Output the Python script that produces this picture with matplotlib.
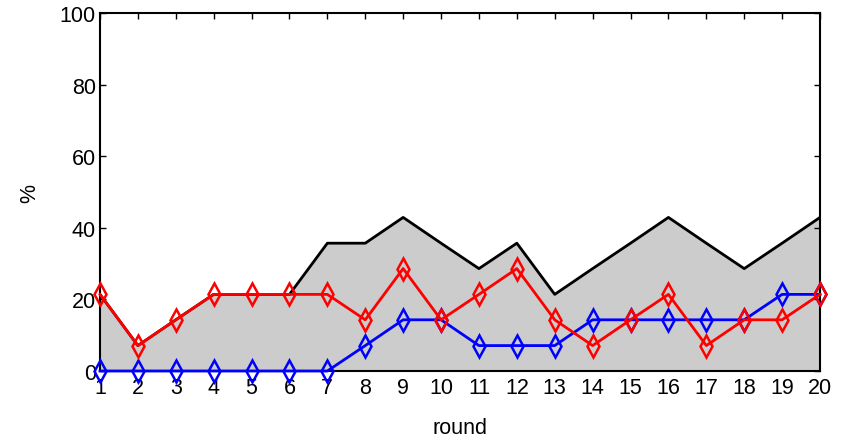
import matplotlib
matplotlib.use("Agg")
import matplotlib.pyplot as plt

plt.rcParams['font.family'] = ['Liberation Sans', 'DejaVu Sans']

rounds = list(range(1, 21))
# values in %, multiples of 1/14
total = [21.4, 7.1, 14.3, 21.4, 21.4, 21.4, 35.7, 35.7, 42.9, 35.7,
         28.6, 35.7, 21.4, 28.6, 35.7, 42.9, 35.7, 28.6, 35.7, 42.9]
blue_vals = [0, 0, 0, 0, 0, 0, 0, 7.1, 14.3, 14.3,
             7.1, 7.1, 7.1, 14.3, 14.3, 14.3, 14.3, 14.3, 21.4, 21.4]
red_vals = [21.4, 7.1, 14.3, 21.4, 21.4, 21.4, 21.4, 14.3, 28.6, 14.3,
            21.4, 28.6, 14.3, 7.1, 14.3, 21.4, 7.1, 14.3, 14.3, 21.4]
yticks = [0, 20, 40, 60, 80, 100]

fig = plt.figure(figsize=(8.52, 4.39), dpi=100)
ax = fig.add_axes([100 / 852, 1 - 372 / 439, 720 / 852, 358 / 439])

ax.fill_between(rounds, 0, total, color='#cccccc', linewidth=0, zorder=1)
ax.plot(rounds, total, color='black', linewidth=2, zorder=3)
ax.plot(rounds, blue_vals, color='blue', linewidth=2, marker='d',
        markersize=11, markerfacecolor='none', markeredgewidth=1.8, zorder=4,
        clip_on=False)
ax.plot(rounds, red_vals, color='red', linewidth=2, marker='d',
        markersize=11, markerfacecolor='none', markeredgewidth=1.8, zorder=5,
        clip_on=False)

ax.set_xlim(1, 20)
ax.set_ylim(0, 100)
ax.set_xticks(rounds)
ax.set_yticks(yticks)
ax.tick_params(direction='in', length=4, width=1, labelsize=15.5, pad=3,
               top=True, right=True)
ax.tick_params(axis='x', bottom=False, labelbottom=True, pad=4)
for s in ax.spines.values():
    s.set_linewidth(1.5)

ax.set_xlabel('round', fontsize=15.5, labelpad=14)
ax.set_ylabel('%', fontsize=15.5, labelpad=14)

fig.savefig('out.png', dpi=100)
